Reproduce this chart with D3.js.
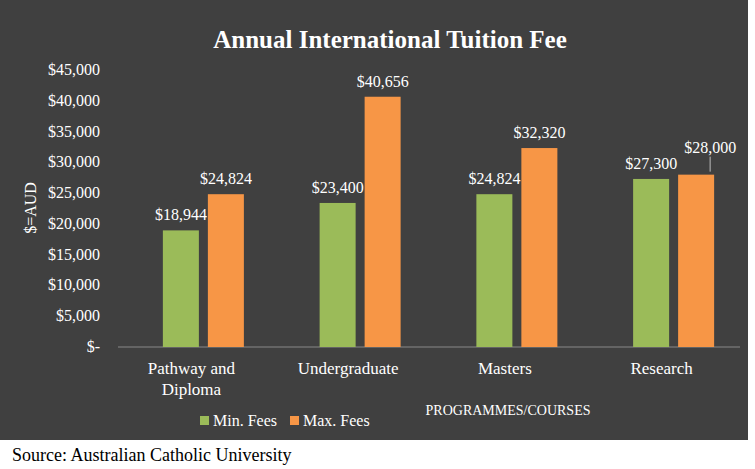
<!DOCTYPE html><html><head><meta charset="utf-8">
<script src="https://cdn.jsdelivr.net/npm/d3@7"></script>
<style>body{margin:0;background:#fff}svg{display:block}</style></head><body>
<svg id="c" width="755" height="469"></svg>
<script>
const categories=["Pathway and|Diploma","Undergraduate","Masters","Research"];
const minFees=[18944,23400,24824,27300];
const maxFees=[24824,40656,32320,28000];
const yTicks=[0,5000,10000,15000,20000,25000,30000,35000,40000,45000];
const F="'Liberation Serif','DejaVu Serif',serif";
const svg=d3.select("#c");
svg.append("rect").attr("x",0).attr("y",0).attr("width",748).attr("height",440).attr("fill","#404040");
const x=d3.scaleBand().domain(categories).range([125,752]);
const y=d3.scaleLinear().domain([0,45000]).range([347,70]);
const bw=36,gap=9;
svg.append("text").attr("x",390).attr("y",48).attr("text-anchor","middle").attr("fill","#fff")
 .attr("font-family",F).attr("font-weight","bold").attr("font-size",25).text("Annual International Tuition Fee");
const fmt=d3.format(",");
yTicks.forEach(t=>svg.append("text").attr("x",100).attr("y",y(t)+5).attr("text-anchor","end").attr("fill","#fff")
 .attr("font-family",F).attr("font-size",16).text(t===0?"$-":"$"+fmt(t)));
svg.append("line").attr("x1",118).attr("x2",740).attr("y1",y(0)).attr("y2",y(0)).attr("stroke","#888");
svg.append("text").attr("transform","translate(36,208) rotate(-90)").attr("text-anchor","middle").attr("fill","#fff")
 .attr("font-family",F).attr("font-size",16).text("$=AUD");
const series=[{v:minFees,c:"#9bbb59",o:-gap/2-bw},{v:maxFees,c:"#f79646",o:gap/2}];
categories.forEach((cat,i)=>{
 const cx=x(cat)+x.bandwidth()/2;
 series.forEach((s,k)=>{
  const bx=cx+s.o, v=s.v[i];
  svg.append("rect").attr("x",bx).attr("y",y(v)).attr("width",bw).attr("height",y(0)-y(v)).attr("fill",s.c);
  let ly=y(v)-10, lx=bx+bw/2;
  if(i===3&&k===1){ly=y(v)-22;lx=bx+bw/2+14;
   svg.append("line").attr("x1",bx+bw/2+14).attr("x2",bx+bw/2+14).attr("y1",y(v)-3).attr("y2",y(v)-18).attr("stroke","#bbb");}
  svg.append("text").attr("x",lx).attr("y",ly).attr("text-anchor","middle").attr("fill","#fff")
   .attr("font-family",F).attr("font-size",16).text("$"+fmt(v));
 });
 cat.split("|").forEach((l,j)=>svg.append("text").attr("x",cx-12).attr("y",374+j*21).attr("text-anchor","middle")
  .attr("fill","#fff").attr("font-family",F).attr("font-size",17).text(l));
});
svg.append("text").attr("x",508).attr("y",415).attr("text-anchor","middle").attr("fill","#fff")
 .attr("font-family",F).attr("font-size",14).text("PROGRAMMES/COURSES");
[["Min. Fees","#9bbb59",200],["Max. Fees","#f79646",290]].forEach(([t,c,lx])=>{
 svg.append("rect").attr("x",lx).attr("y",416).attr("width",9).attr("height",9).attr("fill",c);
 svg.append("text").attr("x",lx+13).attr("y",426).attr("fill","#fff").attr("font-family",F).attr("font-size",16).text(t);
});
svg.append("text").attr("x",12).attr("y",461).attr("fill","#000").attr("font-family",F).attr("font-size",18)
 .text("Source: Australian Catholic University");
</script></body></html>
